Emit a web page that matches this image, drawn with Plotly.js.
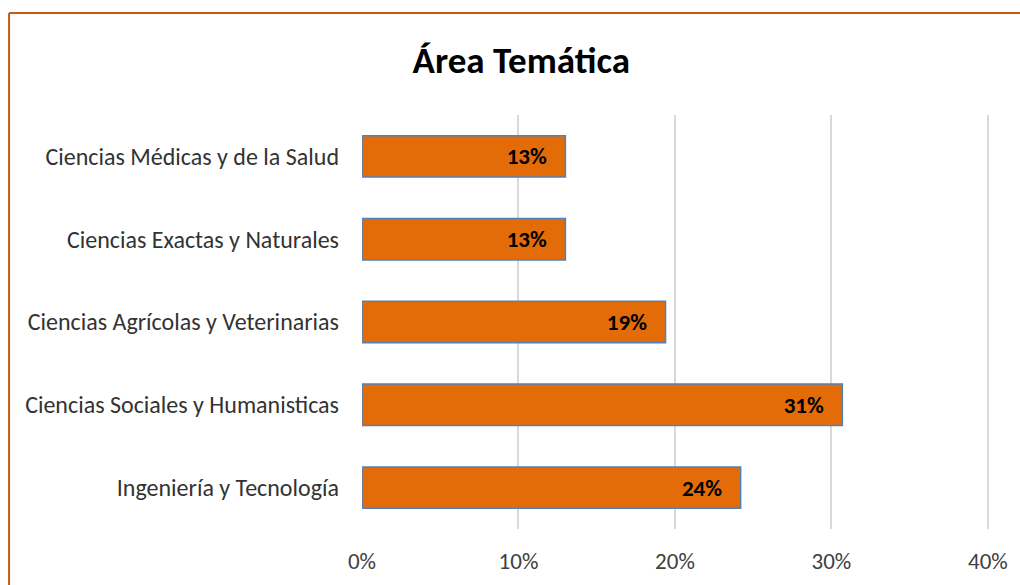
<!DOCTYPE html>
<html><head><meta charset="utf-8">
<script src="https://cdn.plot.ly/plotly-3.0.1.min.js"></script>
<style>html,body{margin:0;padding:0;background:#fff;}#chart{width:1020px;height:585px;}</style>
</head><body><div id="chart"></div>
<script>
const categories = ["Ingeniería y Tecnología","Ciencias Sociales y Humanisticas","Ciencias Agrícolas y Veterinarias","Ciencias Exactas y Naturales","Ciencias Médicas y de la Salud"];
const values = [0.242, 0.307, 0.194, 0.13, 0.13];
const tickVals = [0, 0.1, 0.2, 0.3, 0.4];
const tickText = ["0%","10%","20%","30%","40%"];
const chartTitle = "Área Temática";

const font = "Carlito, Calibri, Lato, 'Open Sans', sans-serif";
const xMax = 0.402;
const L = 362, T = 115, B = 529;
const R = 362 + 626 * (xMax / 0.4);
const pw = R - L, ph = B - T;
const frameX = (9 - L) / pw, frameY = (B - 13) / ph;

Plotly.newPlot('chart', [{
  type: 'bar', orientation: 'h',
  y: categories, x: values,
  width: 0.5,
  marker: {color: '#E36C09', line: {color: '#4F81BD', width: 1.5}},
  texttemplate: '<b>%{x:.0%}</b>\u00a0\u00a0\u00a0', textposition: 'inside', insidetextanchor: 'end',
  textfont: {family: font, size: 23, color: '#000'},
  hoverinfo: 'none'
}], {
  width: 1020, height: 585,
  margin: {l: L, r: 1020 - R, t: T, b: 585 - B},
  paper_bgcolor: '#fff', plot_bgcolor: '#fff',
  title: {text: '<b>' + chartTitle + '</b>', x: 0.511, xanchor: 'center', y: 0.897, yanchor: 'middle',
          font: {family: font, size: 37, color: '#000'}},
  xaxis: {range: [0, xMax], tickvals: tickVals, ticktext: tickText, showgrid: true, gridcolor: '#D9D9D9', gridwidth: 2,
          zeroline: false, showline: false, ticks: '', ticklabelstandoff: 16,
          tickfont: {family: font, size: 23, color: '#404040'}, fixedrange: true},
  yaxis: {showgrid: false, zeroline: false, showline: false, ticks: '', ticklabelstandoff: 22,
          tickfont: {family: font, size: 24, color: '#333'}, fixedrange: true},
  showlegend: false,
  shapes: [
    {type: 'line', xref: 'paper', yref: 'paper', x0: frameX, x1: 1.1, y0: frameY, y1: frameY, line: {color: '#C55A11', width: 2}},
    {type: 'line', xref: 'paper', yref: 'paper', x0: frameX, x1: frameX, y0: frameY, y1: -0.2, line: {color: '#C55A11', width: 2}}
  ]
}, {staticPlot: true});
</script></body></html>
